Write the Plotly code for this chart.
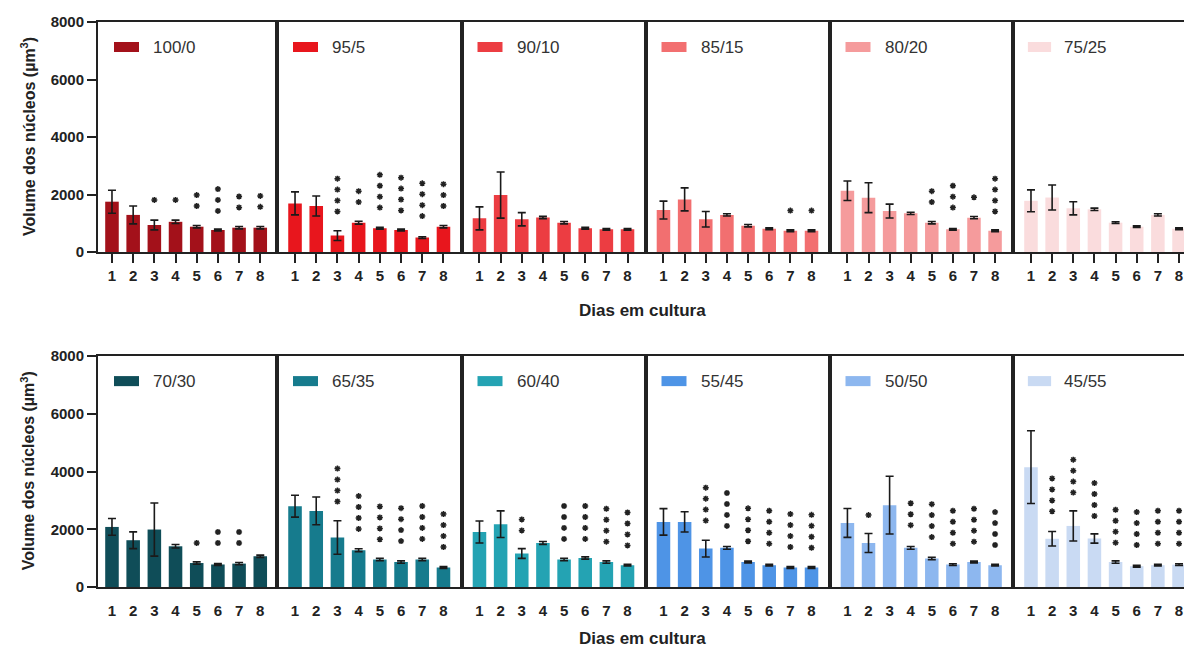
import plotly.graph_objects as go

# ---------------- data ----------------
days = [1, 2, 3, 4, 5, 6, 7, 8]
day_labels = ["1", "2", "3", "4", "5", "6", "7", "8"]
y_tick_vals = [0, 2000, 4000, 6000, 8000]
y_tick_text = ["0", "2000", "4000", "6000", "8000"]

groups_top = ["100/0", "95/5", "90/10", "85/15", "80/20", "75/25"]
groups_bottom = ["70/30", "65/35", "60/40", "55/45", "50/50", "45/55"]
colors_top = ["#a3111a", "#e8161d", "#ec3d42", "#f26f70", "#f59b9c", "#fadcdd"]
colors_bottom = ["#0f4d58", "#167b8d", "#24a3b3", "#4e94e6", "#8db7ef", "#c9daf3"]

# mean volume, error, number of significance asterisks, asterisk stack centre
mean_100_0 = [1750, 1290, 940, 1050, 880, 765, 846, 846]
err_100_0 = [400, 310, 170, 60, 40, 30, 40, 40]
nsig_100_0 = [0, 0, 1, 1, 2, 3, 2, 2]
hsig_100_0 = [0, 0, 1810, 1810, 1790, 1810, 1740, 1760]

mean_95_5 = [1690, 1600, 570, 1020, 825, 765, 500, 880]
err_95_5 = [400, 350, 170, 50, 30, 30, 30, 40]
nsig_95_5 = [0, 0, 4, 2, 4, 4, 4, 3]
hsig_95_5 = [0, 0, 1980, 1925, 2115, 2015, 1820, 1980]

mean_90_10 = [1170, 1980, 1140, 1200, 1020, 825, 790, 790]
err_90_10 = [400, 800, 230, 40, 40, 30, 30, 30]
nsig_90_10 = [0, 0, 0, 0, 0, 0, 0, 0]
hsig_90_10 = [0, 0, 0, 0, 0, 0, 0, 0]

mean_85_15 = [1460, 1830, 1140, 1290, 915, 810, 740, 740]
err_85_15 = [310, 400, 270, 40, 40, 30, 30, 30]
nsig_85_15 = [0, 0, 0, 0, 0, 0, 1, 1]
hsig_85_15 = [0, 0, 0, 0, 0, 0, 1440, 1440]

mean_80_20 = [2130, 1890, 1425, 1345, 1020, 790, 1195, 740]
err_80_20 = [340, 520, 240, 40, 40, 30, 40, 30]
nsig_80_20 = [0, 0, 0, 0, 2, 3, 1, 4]
hsig_80_20 = [0, 0, 0, 0, 1925, 1925, 1900, 1980]

mean_75_25 = [1780, 1895, 1520, 1485, 1020, 880, 1290, 810]
err_75_25 = [380, 435, 230, 40, 30, 30, 40, 30]
nsig_75_25 = [0, 0, 0, 0, 0, 0, 0, 0]
hsig_75_25 = [0, 0, 0, 0, 0, 0, 0, 0]

mean_70_30 = [2080, 1620, 1990, 1410, 830, 780, 810, 1065]
err_70_30 = [290, 290, 920, 60, 40, 30, 40, 40]
nsig_70_30 = [0, 0, 0, 0, 1, 2, 2, 0]
hsig_70_30 = [0, 0, 0, 0, 1525, 1715, 1715, 0]

mean_65_35 = [2800, 2635, 1715, 1275, 950, 865, 950, 675]
err_65_35 = [380, 480, 580, 50, 40, 40, 40, 30]
nsig_65_35 = [0, 0, 4, 4, 4, 4, 4, 4]
hsig_65_35 = [0, 0, 3530, 2580, 2220, 2160, 2235, 1955]

mean_60_40 = [1905, 2175, 1160, 1525, 950, 1005, 865, 755]
err_60_40 = [380, 460, 170, 50, 40, 40, 40, 30]
nsig_60_40 = [0, 0, 2, 0, 4, 4, 4, 4]
hsig_60_40 = [0, 0, 2150, 0, 2235, 2235, 2140, 2010]

mean_55_45 = [2255, 2255, 1330, 1355, 865, 755, 675, 675]
err_55_45 = [460, 350, 290, 50, 30, 30, 30, 30]
nsig_55_45 = [0, 0, 4, 4, 4, 4, 4, 4]
hsig_55_45 = [0, 0, 2870, 2685, 2155, 2070, 1955, 1930]

mean_50_50 = [2220, 1525, 2835, 1355, 985, 775, 865, 755]
err_50_50 = [500, 330, 1000, 50, 40, 30, 30, 30]
nsig_50_50 = [0, 1, 0, 3, 4, 4, 4, 4]
hsig_50_50 = [0, 2490, 0, 2520, 2300, 2070, 2140, 2025]

mean_45_55 = [4150, 1670, 2115, 1680, 865, 720, 755, 775]
err_45_55 = [1260, 250, 520, 160, 40, 30, 30, 30]
nsig_45_55 = [0, 4, 4, 4, 4, 4, 4, 4]
hsig_45_55 = [0, 3190, 3840, 3030, 2105, 2025, 2070, 2070]

panels = [
    (groups_top[0], colors_top[0], mean_100_0, err_100_0, nsig_100_0, hsig_100_0),
    (groups_top[1], colors_top[1], mean_95_5, err_95_5, nsig_95_5, hsig_95_5),
    (groups_top[2], colors_top[2], mean_90_10, err_90_10, nsig_90_10, hsig_90_10),
    (groups_top[3], colors_top[3], mean_85_15, err_85_15, nsig_85_15, hsig_85_15),
    (groups_top[4], colors_top[4], mean_80_20, err_80_20, nsig_80_20, hsig_80_20),
    (groups_top[5], colors_top[5], mean_75_25, err_75_25, nsig_75_25, hsig_75_25),
    (groups_bottom[0], colors_bottom[0], mean_70_30, err_70_30, nsig_70_30, hsig_70_30),
    (groups_bottom[1], colors_bottom[1], mean_65_35, err_65_35, nsig_65_35, hsig_65_35),
    (groups_bottom[2], colors_bottom[2], mean_60_40, err_60_40, nsig_60_40, hsig_60_40),
    (groups_bottom[3], colors_bottom[3], mean_55_45, err_55_45, nsig_55_45, hsig_55_45),
    (groups_bottom[4], colors_bottom[4], mean_50_50, err_50_50, nsig_50_50, hsig_50_50),
    (groups_bottom[5], colors_bottom[5], mean_45_55, err_45_55, nsig_45_55, hsig_45_55),
]

# ---------------- layout geometry ----------------
W, H = 1184, 650
ML, MR, MT, MB = 98, 0, 22, 63
PW = W - ML - MR
PH = H - MT - MB
border_px = [98, 277, 461.5, 645.5, 829.5, 1013, 1184]
x_domains = [[(border_px[i] - ML) / PW, (border_px[i + 1] - ML) / PW] for i in range(6)]
x_ranges = [[0.34, 8.79], [0.15, 8.85], [0.15, 8.85], [0.15, 8.85], [0.15, 8.85], [0.15, 8.235]]
y_domains = [[(H - MB - 252) / PH, 1.0], [0.0, (H - MB - 356) / PH]]
row_h_px = 230

FONT = "Arial, Liberation Sans, sans-serif"
INK = "#222222"
STAR_STEP = 380  # vertical spacing of stacked asterisks, in data units

fig = go.Figure()
shapes = []
annotations = []

for i, (name, color, mean, err, nsig, hsig) in enumerate(panels):
    row, col = divmod(i, 6)
    k = i + 1
    xa = "x" if k == 1 else f"x{k}"
    ya = "y" if k == 1 else f"y{k}"

    fig.add_trace(go.Bar(
        x=days, y=mean, width=0.64, xaxis=xa, yaxis=ya,
        marker=dict(color=color, line=dict(width=0)),
        error_y=dict(type="data", array=err, visible=True, color="#1a1a1a",
                     thickness=1.6, width=4),
        showlegend=False, hoverinfo="x+y",
    ))

    sx, sy = [], []
    for d, n, h in zip(days, nsig, hsig):
        for j in range(n):
            sx.append(d)
            sy.append(h + (j - (n - 1) / 2) * STAR_STEP)
    if sx:
        fig.add_trace(go.Scatter(
            x=sx, y=sy, xaxis=xa, yaxis=ya, mode="markers",
            marker=dict(symbol="asterisk-open", size=5, color=INK,
                        line=dict(width=1.5, color=INK)),
            showlegend=False, hoverinfo="skip",
        ))

    first = (col == 0)
    xkey = "xaxis" if k == 1 else f"xaxis{k}"
    ykey = "yaxis" if k == 1 else f"yaxis{k}"
    fig.layout[xkey] = dict(
        domain=x_domains[col], anchor=ya, range=x_ranges[col],
        showline=True, linecolor=INK, linewidth=2, mirror=True,
        showgrid=False, zeroline=False,
        tickmode="array", tickvals=days, ticktext=day_labels,
        ticks="outside", ticklen=9, tickwidth=2,
        tickcolor=INK if row == 0 else "rgba(0,0,0,0)",
        tickfont=dict(family=FONT, size=15, color=INK, weight="bold"),
        fixedrange=True,
    )
    fig.layout[ykey] = dict(
        domain=y_domains[row], anchor=xa, range=[0, 8000],
        showline=True, linecolor=INK, linewidth=2, mirror=(col < 5),
        showgrid=False, zeroline=False,
        tickmode="array", tickvals=y_tick_vals, ticktext=y_tick_text,
        ticks="outside" if first else "", ticklen=9, tickwidth=2, tickcolor=INK,
        showticklabels=first,
        tickfont=dict(family=FONT, size=15, color=INK, weight="bold"),
        fixedrange=True,
    )

    # legend swatch + label inside panel
    pw = border_px[col + 1] - border_px[col]
    if col == 5:
        pw = 184
    shapes.append(dict(
        type="rect", xref=f"{xa} domain", yref=f"{ya} domain",
        x0=16 / pw, x1=41 / pw, y0=1 - 30 / row_h_px, y1=1 - 20 / row_h_px,
        fillcolor=color, line=dict(width=0), layer="above",
    ))
    annotations.append(dict(
        text=name, xref=f"{xa} domain", yref=f"{ya} domain",
        x=53 / pw, y=1 - 25 / row_h_px, xanchor="left", yanchor="middle",
        showarrow=False, font=dict(family=FONT, size=17, color="#333333"),
    ))

# axis titles
for yc_px in [(252 + 22) / 2, (356 + 586.7) / 2]:
    annotations.append(dict(
        text="Volume dos núcleos (µm<sup>3</sup>)", xref="paper", yref="paper",
        x=(28 - ML) / PW, y=(H - MB - yc_px) / PH, xanchor="center", yanchor="middle",
        textangle=-90, showarrow=False,
        font=dict(family=FONT, size=16, color=INK, weight="bold"),
    ))
for yt_px in [310, 638]:
    annotations.append(dict(
        text="Dias em cultura", xref="paper", yref="paper",
        x=(642 - ML) / PW, y=(H - MB - yt_px) / PH, xanchor="center", yanchor="middle",
        showarrow=False,
        font=dict(family=FONT, size=17, color=INK, weight="bold"),
    ))

fig.update_layout(
    width=W, height=H,
    margin=dict(l=ML, r=MR, t=MT, b=MB, pad=0),
    paper_bgcolor="white", plot_bgcolor="white",
    barmode="overlay", showlegend=False,
    shapes=shapes, annotations=annotations,
    font=dict(family=FONT, color=INK),
)

fig.write_html(
    "out.html",
    config={"displayModeBar": False},
    post_script="document.body.style.margin='0';document.body.style.overflow='hidden';",
)
